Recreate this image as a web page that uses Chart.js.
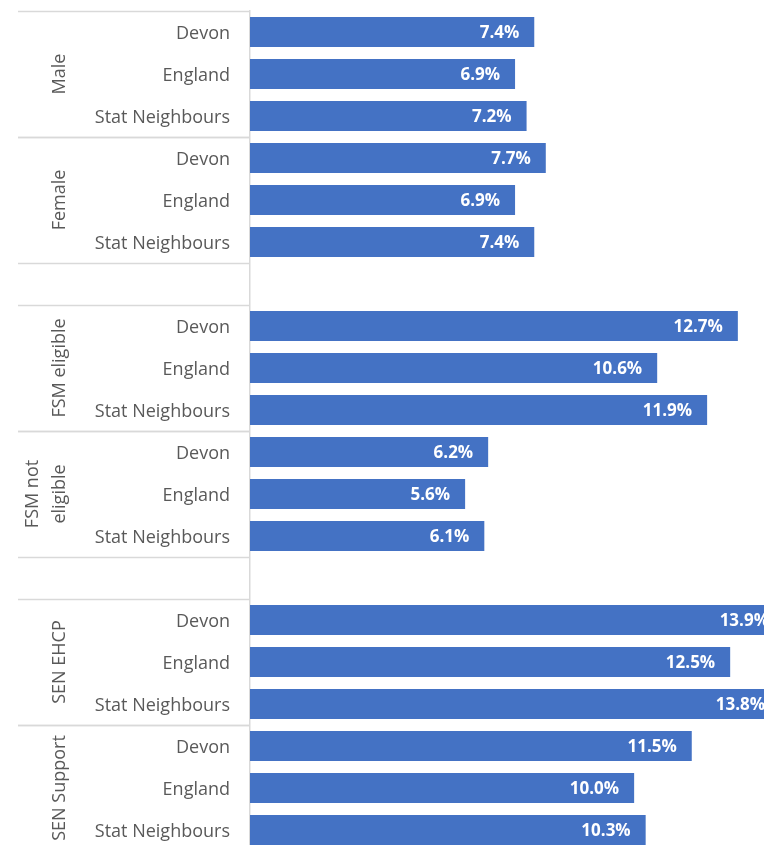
<!DOCTYPE html>
<html>
<head>
<meta charset="utf-8">
<script src="https://cdn.jsdelivr.net/npm/chart.js@4/dist/chart.umd.min.js"></script>
<style>
  html, body { margin: 0; padding: 0; background: #fff; overflow: hidden; }
  #wrap { position: relative; width: 807px; height: 860px; }
</style>
</head>
<body>
<div id="wrap"><canvas id="chart"></canvas></div>
<script>
const categories = ["Devon", "England", "Stat Neighbours"];
const groupNames = [["Male"], ["Female"], null, ["FSM eligible"], ["FSM not", "eligible"], null, ["SEN EHCP"], ["SEN Support"]];
const male = [7.4, 6.9, 7.2];
const female = [7.7, 6.9, 7.4];
const fsmEligible = [12.7, 10.6, 11.9];
const fsmNotEligible = [6.2, 5.6, 6.1];
const senEhcp = [13.9, 12.5, 13.8];
const senSupport = [11.5, 10.0, 10.3];

const groupValues = [male, female, null, fsmEligible, fsmNotEligible, null, senEhcp, senSupport];

// flatten into rows, blank spacer rows where a group is null
const labels = [];
const values = [];
const groupRanges = [];
groupValues.forEach(function(vals, g) {
  if (!vals) {
    labels.push("");
    values.push(null);
    return;
  }
  const start = labels.length;
  categories.forEach(function(c, i) {
    labels.push(c);
    values.push(vals[i]);
  });
  groupRanges.push({ start: start, end: labels.length - 1, name: groupNames[g] });
});

const textGrey = "#595959";
const lineGrey = "#d9d9d9";
const font = "'Open Sans', sans-serif";

const groupPlugin = {
  id: "groups",
  afterDraw: function(chart) {
    const ctx = chart.ctx;
    const y = chart.scales.y;
    const half = (y.getPixelForValue(1) - y.getPixelForValue(0)) / 2;
    ctx.save();
    ctx.strokeStyle = lineGrey;
    ctx.lineWidth = 1.5;
    groupRanges.forEach(function(r) {
      const top = y.getPixelForValue(r.start) - half;
      const bottom = y.getPixelForValue(r.end) + half;
      [top, bottom].forEach(function(py) {
        ctx.beginPath();
        ctx.moveTo(18, Math.round(py) + 0.5);
        ctx.lineTo(chart.chartArea.left, Math.round(py) + 0.5);
        ctx.stroke();
      });
      const cy = (top + bottom) / 2;
      ctx.fillStyle = textGrey;
      ctx.font = "18px " + font;
      ctx.textAlign = "center";
      ctx.textBaseline = "middle";
      const xs = r.name.length === 1 ? [60] : [33, 60];
      r.name.forEach(function(line, i) {
        ctx.save();
        ctx.translate(xs[i], cy);
        ctx.rotate(-Math.PI / 2);
        ctx.fillText(line, 0, 0);
        ctx.restore();
      });
    });

    // value labels inside bar ends
    const meta = chart.getDatasetMeta(0);
    ctx.fillStyle = "#ffffff";
    ctx.font = "bold 17px " + font;
    ctx.textAlign = "right";
    ctx.textBaseline = "middle";
    meta.data.forEach(function(el, i) {
      const v = values[i];
      if (v === null) return;
      ctx.fillText(v.toFixed(1) + "%", el.x - 15, el.y + 1);
    });
    ctx.restore();
  }
};

new Chart(document.getElementById("chart").getContext("2d"), {
  type: "bar",
  data: {
    labels: labels,
    datasets: [{
      data: values,
      backgroundColor: "#4472c4",
      barPercentage: 0.714,
      categoryPercentage: 1
    }]
  },
  options: {
    indexAxis: "y",
    responsive: true,
    maintainAspectRatio: false,
    animation: false,
    layout: { padding: { top: 11, bottom: 9, left: 0, right: 0 } },
    plugins: { legend: { display: false }, tooltip: { enabled: false } },
    scales: {
      x: { display: false, min: 0, max: 14.5 },
      y: {
        afterFit: function(s) {
          s.width = 250;
          s.paddingTop = 0;
          s.paddingBottom = 0;
        },
        grid: { display: false, drawTicks: false },
        border: { display: true, color: lineGrey, width: 1.5 },
        ticks: { color: textGrey, font: { family: font, size: 18 }, padding: 20, labelOffset: 2 }
      }
    }
  },
  plugins: [groupPlugin]
});
</script>
</body>
</html>
